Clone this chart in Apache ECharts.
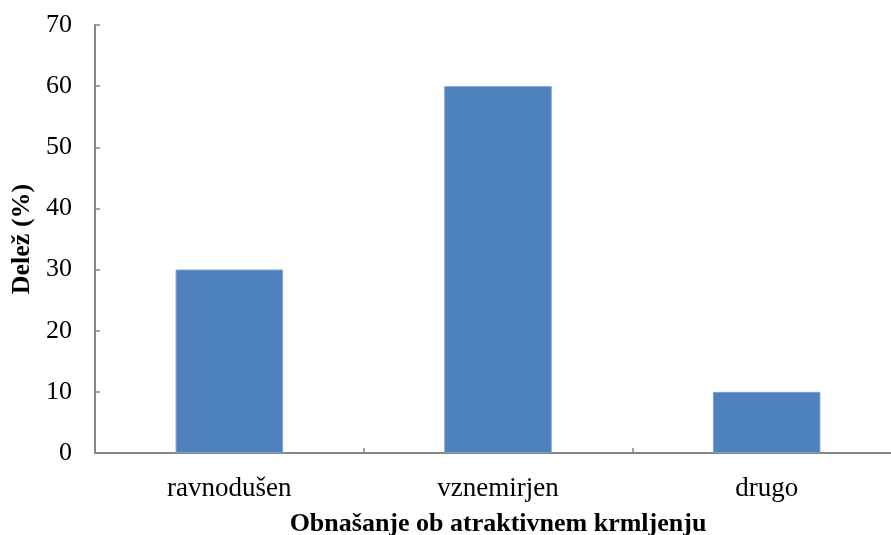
<!DOCTYPE html>
<html>
<head>
<meta charset="utf-8">
<script src="https://cdn.jsdelivr.net/npm/echarts@6/dist/echarts.min.js"></script>
<style>
  html, body { margin: 0; padding: 0; background: #ffffff; }
  #chart { width: 891px; height: 535px; }
</style>
</head>
<body>
<div id="chart"></div>
<script>
// Behaviour categories and their shares (%)
const categories = ['ravnodušen', 'vznemirjen', 'drugo'];
const shares = [30, 60, 10];
const yTicks = { min: 0, max: 70, step: 10 };

const serif = '"Liberation Serif", "DejaVu Serif", serif';
const axisGray = '#868686';

const chart = echarts.init(document.getElementById('chart'));
chart.setOption({
  animation: false,
  backgroundColor: '#ffffff',
  // plot area runs past the right edge of the canvas
  grid: {
    left: 95, top: 25, width: 806, bottom: 82,
    containLabel: false,
    outerBoundsMode: 'none'
  },
  xAxis: {
    type: 'category',
    data: categories,
    name: 'Obnašanje ob atraktivnem krmljenju',
    nameLocation: 'middle',
    nameGap: 58,
    nameTextStyle: { fontFamily: serif, fontSize: 26, fontWeight: 'bold', color: '#000' },
    axisLine: { lineStyle: { color: axisGray, width: 2 } },
    axisTick: { show: true, inside: true, length: 5, lineStyle: { color: axisGray, width: 1.5 } },
    axisLabel: { fontFamily: serif, fontSize: 27, color: '#000', margin: 22 }
  },
  yAxis: {
    type: 'value',
    min: yTicks.min,
    max: yTicks.max,
    interval: yTicks.step,
    name: 'Delež (%)',
    nameLocation: 'middle',
    nameGap: 56,
    nameRotate: 90,
    nameTextStyle: { fontFamily: serif, fontSize: 26, fontWeight: 'bold', color: '#000' },
    splitLine: { show: false },
    axisLine: { show: true, lineStyle: { color: axisGray, width: 2 } },
    axisTick: { show: true, inside: true, length: 5, lineStyle: { color: axisGray, width: 1.5 } },
    axisLabel: { fontFamily: serif, fontSize: 26, color: '#000', margin: 23 }
  },
  series: [{
    type: 'bar',
    data: shares,
    barWidth: '40%',
    itemStyle: { color: '#4F81BD', borderColor: '#7A9FCD', borderWidth: 1 }
  }]
});
</script>
</body>
</html>
